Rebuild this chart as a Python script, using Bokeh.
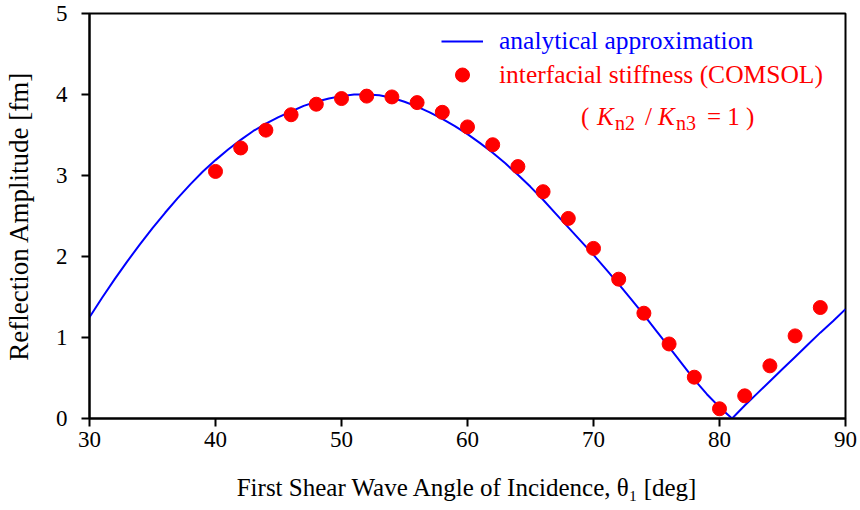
from bokeh.plotting import figure
from bokeh.models import Range1d, Legend, LegendItem, Label, FixedTicker
from bokeh.embed import file_html
from bokeh.resources import INLINE

# analytical approximation
curve_angle = [30, 31, 32, 33, 34, 35, 36, 37, 38, 39, 40, 41, 42, 43, 44, 45, 46, 47, 48, 49,
               50, 51, 52, 53, 54, 55, 56, 57, 58, 59, 60, 61, 62, 63, 64, 65, 66, 67, 68, 69,
               70, 71, 72, 73, 74, 75, 76, 77, 78, 79, 80, 81, 82, 83, 84, 85, 86, 87, 88, 89, 90]
curve_amp = [1.25, 1.49, 1.72, 1.94, 2.15, 2.35, 2.54, 2.72, 2.89, 3.05, 3.19, 3.32, 3.44, 3.55,
             3.64, 3.72, 3.79, 3.86, 3.91, 3.95, 3.98, 4.00, 4.00, 3.99, 3.96, 3.91, 3.85, 3.78,
             3.70, 3.61, 3.51, 3.40, 3.28, 3.15, 3.01, 2.86, 2.70, 2.53, 2.36, 2.19, 2.02, 1.84,
             1.66, 1.47, 1.28, 1.08, 0.88, 0.68, 0.48, 0.30, 0.14, 0.00, 0.16, 0.31, 0.46, 0.61,
             0.76, 0.91, 1.06, 1.20, 1.35]

# interfacial stiffness (COMSOL)
comsol_angle = [40, 42, 44, 46, 48, 50, 52, 54, 56, 58, 60, 62, 64, 66, 68, 70, 72, 74,
                76, 78, 80, 82, 84, 86, 88]
comsol_amp = [3.05, 3.34, 3.56, 3.75, 3.88, 3.95, 3.98, 3.97, 3.90, 3.78, 3.60, 3.38, 3.11,
              2.80, 2.47, 2.10, 1.72, 1.30, 0.92, 0.51, 0.12, 0.28, 0.65, 1.02, 1.37]

x_ticks = [30, 40, 50, 60, 70, 80, 90]
y_ticks = [0, 1, 2, 3, 4, 5]

FONT = "Liberation Serif"

p = figure(width=860, height=510, output_backend="svg", toolbar_location=None,
           x_range=Range1d(30, 90), y_range=Range1d(0, 5),
           min_border_left=88, min_border_right=15, min_border_top=13, min_border_bottom=92)
p.grid.visible = False
p.outline_line_color = "black"
p.outline_line_width = 2
p.outline_line_alpha = 1.0

for ax in (p.xaxis[0], p.yaxis[0]):
    ax.axis_line_width = 2
    ax.major_tick_line_width = 2
    ax.major_tick_out = 8
    ax.major_tick_in = 0
    ax.minor_tick_out = 0
    ax.minor_tick_in = 0
    ax.major_label_text_font = FONT
    ax.major_label_text_font_size = "23px"
    ax.major_label_text_color = "black"
    ax.axis_label_text_font = FONT
    ax.axis_label_text_font_style = "normal"
    ax.axis_label_text_color = "black"

p.xaxis.ticker = FixedTicker(ticks=x_ticks)
p.yaxis.ticker = FixedTicker(ticks=y_ticks)
p.xaxis.axis_label = "First Shear Wave Angle of Incidence, θ₁ [deg]"
p.xaxis.axis_label_text_font_size = "25px"
p.xaxis.major_label_standoff = 5
p.xaxis.axis_label_standoff = 24
p.yaxis.axis_label = "Reflection Amplitude [fm]"
p.yaxis.axis_label_text_font_size = "27px"
p.yaxis.major_label_standoff = 14
p.yaxis.axis_label_standoff = 19

line = p.line(curve_angle, curve_amp, line_color="#0000ff", line_width=2)
dots = p.scatter(comsol_angle, comsol_amp, size=14, fill_color="#ff0000", line_color="#ff0000")

leg1 = Legend(items=[LegendItem(label="analytical approximation", renderers=[line])],
              location=(352, 362), label_text_color="#0000ff", glyph_height=20)
leg2 = Legend(items=[LegendItem(label="interfacial stiffness (COMSOL)", renderers=[dots])],
              location=(352, 326), label_text_color="#ff0000", glyph_height=35)
for lg in (leg1, leg2):
    lg.label_text_font = FONT
    lg.label_text_font_size = "25.5px"
    lg.glyph_width = 42
    lg.label_standoff = 16
    lg.padding = 0
    lg.margin = 0
    lg.spacing = 0
    lg.border_line_color = None
    lg.background_fill_alpha = 0
    p.add_layout(lg)

# ( K_n2 / K_n3 = 1 ) annotation
ax0, ay0 = 69.0, 3.73
parts = [("(", 0, 0, "normal", "25px"),
         ("K", 16, 0, "italic", "25px"),
         ("n2", 34, -7, "normal", "20px"),
         ("/", 64, 0, "normal", "25px"),
         ("K", 77, 0, "italic", "25px"),
         ("n3", 95, -7, "normal", "20px"),
         ("= 1 )", 126, 0, "normal", "25px")]
for txt, dx, dy, style, size in parts:
    p.add_layout(Label(x=ax0, y=ay0, text=txt, x_offset=dx, y_offset=dy,
                       text_font=FONT, text_font_size=size, text_font_style=style,
                       text_color="#ff0000", text_baseline="middle"))

open("out.html", "w").write(file_html(p, INLINE))
